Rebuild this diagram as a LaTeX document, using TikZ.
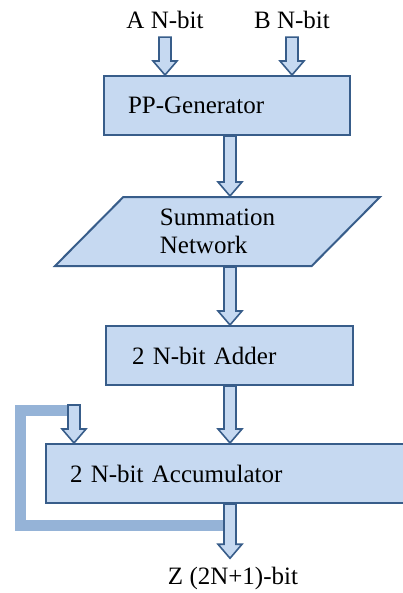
\documentclass[tikz,border=0pt]{standalone}
\usepackage{fontspec}
\setmainfont{Liberation Serif}
\usetikzlibrary{calc,shapes.geometric}
\definecolor{boxblue}{HTML}{C6D9F1}
\definecolor{edgeblue}{HTML}{385D8A}
\definecolor{loopblue}{HTML}{95B3D7}
\tikzset{
    mac diagram/.style = {x=0.5pt, y=-0.5pt,
                          font=\fontsize{12.5}{14}\selectfont},
    block/.style       = {draw=edgeblue, fill=boxblue, line width=1pt,
                          minimum height=29.5pt, align=left},
    slantblock/.style  = {block, trapezium, trapezium stretches body,
                          trapezium left angle=40.4,
                          trapezium right angle=139.6,
                          minimum width=162.5pt, minimum height=34.5pt},
    sig/.style         = {inner xsep=2pt, inner ysep=4pt},
    fatarrow/.style    = {draw=edgeblue, fill=boxblue, line width=0.8pt,
                          line join=miter,
                          to path={let \p1=(\tikztostart), \p2=(\tikztotarget) in
                              (\x1-3pt,\y1) -- (\x1-3pt,\y2+7pt)
                              -- (\x1-6pt,\y2+7pt) -- (\x1,\y2)
                              -- (\x1+6pt,\y2+7pt) -- (\x1+3pt,\y2+7pt)
                              -- (\x1+3pt,\y1) -- cycle}},
    feedback/.style    = {draw=loopblue, line width=5.5pt, line join=miter}
}

\begin{document}
\begin{tikzpicture}[mac diagram]
\useasboundingbox (0,0) rectangle (402,593);

% Operand inputs
\node[sig] (ina) at (165,20) {A N-bit};
\node[sig] (inb) at (292,20) {B N-bit};

% Datapath chain: generator -> summation -> adder -> accumulator
\node[block, minimum width=123pt, text width=99pt, inner xsep=12pt]
    (pp) at (227,105.5) {PP-Generator};
\node[slantblock] (sum) at (217.5,231.5) {Summation\\Network};
\node[block, minimum width=123.5pt, text width=97.5pt, inner xsep=13pt]
    (adder) at (229.5,355.5) {2 N-bit Adder};
\node[block, minimum width=182pt, text width=158pt, inner xsep=12pt]
    (acc) at (228,473.5) {2 N-bit Accumulator};

% Result
\node[sig] (outz) at (233,578) {Z (2N+1)-bit};

% Helper points for the vertical spine and the loop
\coordinate (spine) at (230,0);
\coordinate (fbin) at (74,405);
\coordinate (fbcorner) at (20.5,525);

% Accumulator feedback loop
\draw[feedback] (spine |- fbcorner) -- (fbcorner)
    |- ($(fbin)+(0,5.5)$);

% Block arrows
\draw[fatarrow] (ina.south) to (ina.south |- pp.north);
\draw[fatarrow] (inb.south) to (inb.south |- pp.north);
\draw[fatarrow] (pp.south -| spine) to (sum.north -| spine);
\draw[fatarrow] (sum.south -| spine) to (adder.north -| spine);
\draw[fatarrow] (adder.south -| spine) to (acc.north -| spine);
\draw[fatarrow] (fbin) to (fbin |- acc.north);
\draw[fatarrow] (acc.south -| spine) to (outz.north);

\end{tikzpicture}
\end{document}
